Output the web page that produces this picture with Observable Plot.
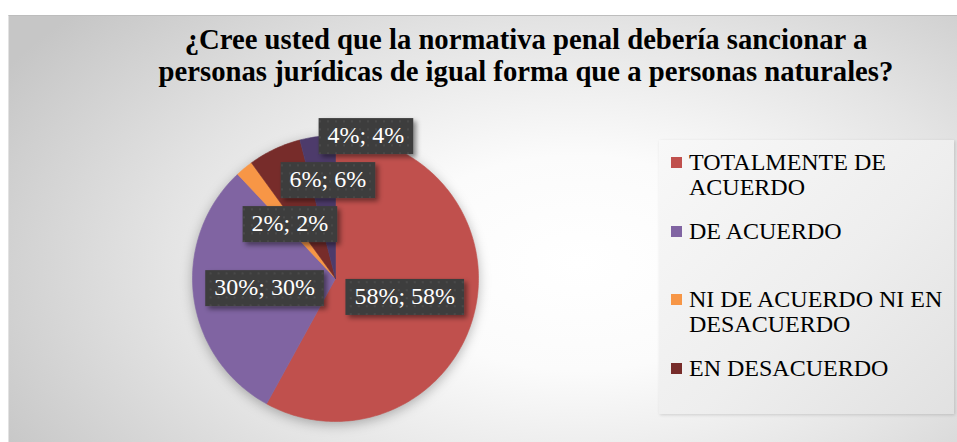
<!DOCTYPE html>
<html>
<head>
<meta charset="utf-8">
<script src="https://cdn.jsdelivr.net/npm/d3@7"></script>
<script src="https://cdn.jsdelivr.net/npm/@observablehq/plot@0.6"></script>
<style>
  body { margin: 0; background: #ffffff; }
  #wrap { position: relative; width: 957px; height: 442px; overflow: hidden; font-family: "Liberation Serif", Tinos, "Times New Roman", Times, "DejaVu Serif", serif; }
  #bg { position: absolute; left: 8px; top: 15px; right: 0; bottom: 0;
        border-left: 1px solid #e2e2e2; border-top: 1px solid #bdbdbd;
        background: radial-gradient(ellipse 70% 90% at 60% 58%, #ffffff 0%, #fbfbfb 28%, #e4e4e4 62%, #c6c6c6 100%); }
  #title { position: absolute; left: 76px; width: 900px; top: 23px; text-align: center;
           font-weight: bold; font-size: 28.7px; line-height: 32px; color: #000; white-space: nowrap; }
  #legend { position: absolute; left: 659px; top: 140px; width: 295px; height: 274px;
            background: linear-gradient(135deg, #f8f8f8 0%, #eeeeee 55%, #e1e1e1 100%);
            box-shadow: 1px 1px 3px rgba(0,0,0,0.15); overflow: hidden; }
  .item { position: absolute; left: 12px; width: 280px; }
  .sw { position: absolute; left: 0; top: 7px; width: 11px; height: 11px; }
  .lt { position: absolute; left: 18px; width: 262px; font-size: 24px; line-height: 25px; color: #000; }
  #plot { position: absolute; left: 0; top: 0; }
</style>
</head>
<body>
<div id="wrap">
  <div id="bg"></div>
  <div id="title"></div>
  <div id="legend"></div>
  <div id="plot"></div>
</div>
<script>
// ---- data ----
const titleLines = ["¿Cree usted que la normativa penal debería sancionar a", "personas jurídicas de igual forma que a personas naturales?"];
const categories = ["TOTALMENTE DE ACUERDO", "DE ACUERDO", "NI DE ACUERDO NI EN DESACUERDO", "EN DESACUERDO", "TOTALMENTE EN DESACUERDO"];
const percents = [58, 30, 2, 6, 4];
const colors = ["#C0504D", "#8064A2", "#F79646", "#772C2A", "#4D3B6B"];
const legendVisible = 4; // entries shown in the (clipped) legend
const serif = '"Liberation Serif", Tinos, "Times New Roman", Times, "DejaVu Serif", serif';

// ---- title ----
document.getElementById("title").innerHTML = titleLines.join("<br>");

// ---- legend ----
const legend = document.getElementById("legend");
categories.slice(0, legendVisible).forEach((c, i) => {
  const it = document.createElement("div");
  it.className = "item";
  it.style.top = (10 + i * 68.5) + "px";
  it.innerHTML = `<div class="sw" style="background:${colors[i]}"></div><div class="lt">${c}</div>`;
  legend.appendChild(it);
});

// ---- pie geometry (from data) ----
const data = categories.map((c, i) => ({cat: c, value: percents[i]}));
const arcs = d3.pie().sort(null).value(d => d.value)(data);
const pts = [];
arcs.forEach(a => {
  const n = Math.max(2, Math.ceil((a.endAngle - a.startAngle) / (Math.PI / 180)));
  pts.push({cat: a.data.cat, x: 0, y: 0});
  for (let k = 0; k <= n; k++) {
    const t = a.startAngle + (a.endAngle - a.startAngle) * k / n;
    pts.push({cat: a.data.cat, x: Math.sin(t), y: Math.cos(t)});
  }
  pts.push({cat: a.data.cat, x: 0, y: 0});
});

// ---- label layout: mid-angle at half radius, stacked when they collide ----
const R = 143;              // pixel radius
const boxH = 36, step = 44, stairX = 38;
const ctx = document.createElement("canvas").getContext("2d");
ctx.font = "24px " + serif;
const labels = [];
arcs.forEach(a => {
  const mid = (a.startAngle + a.endAngle) / 2;
  const text = `${a.data.value}%; ${a.data.value}%`;
  const w = ctx.measureText(text).width + 18;
  let lx = 0.5 * Math.sin(mid), ly = 0.5 * Math.cos(mid);
  let moved = true;
  while (moved) {
    moved = false;
    for (const o of labels) {
      const ox = Math.abs(o.x - lx) * R < (o.w + w) / 2;
      const oy = Math.abs(o.y - ly) * R < boxH;
      if (ox && oy) {
        ly = o.y + step / R;
        lx = o.x + stairX / R;
        moved = true;
      }
    }
  }
  labels.push({cat: a.data.cat, text, x: lx, y: ly, w});
});

// ---- plot ----
const chart = Plot.plot({
  width: 957, height: 442,
  marginLeft: 192, marginRight: 957 - 192 - 2 * R,
  marginTop: 135, marginBottom: 442 - 135 - 2 * R,
  style: {background: "transparent", overflow: "visible", fontFamily: serif},
  x: {domain: [-1, 1], axis: null},
  y: {domain: [-1, 1], axis: null},
  color: {domain: categories, range: colors},
  marks: [
    Plot.line(pts, {x: "x", y: "y", z: "cat", fill: "cat", stroke: "cat", strokeWidth: 0.6, curve: "linear"}),
    Plot.text(labels, {x: "x", y: "y", text: "text", fill: "white", fontSize: 24,
      fontFamily: serif, textAnchor: "middle", lineAnchor: "middle"})
  ]
});
document.getElementById("plot").appendChild(chart);

// decoration: pie shadow, dark label boxes behind texts
const ns = "http://www.w3.org/2000/svg";
const defs = document.createElementNS(ns, "defs");
defs.innerHTML = `
  <pattern id="dots" width="8" height="8" patternUnits="userSpaceOnUse">
    <rect width="8" height="8" fill="#3d3d3d"/>
    <circle cx="2" cy="2" r="0.9" fill="#505050"/>
  </pattern>
  <filter id="sh" x="-20%" y="-30%" width="150%" height="180%">
    <feDropShadow dx="3" dy="3" stdDeviation="2.5" flood-color="#000" flood-opacity="0.45"/>
  </filter>`;
chart.insertBefore(defs, chart.firstChild);
const lineG = chart.querySelector('g[aria-label="line"]');
if (lineG) lineG.style.filter = "drop-shadow(0px 3px 6px rgba(0,0,0,0.28))";
const textG = chart.querySelector('g[aria-label="text"]');
if (textG) {
  textG.querySelectorAll("text").forEach(t => {
    const bb = t.getBBox();
    const r = document.createElementNS(ns, "rect");
    const cy = bb.y + bb.height / 2 + 1;
    r.setAttribute("x", bb.x - 9);
    r.setAttribute("y", cy - boxH / 2);
    r.setAttribute("width", bb.width + 18);
    r.setAttribute("height", boxH);
    r.setAttribute("fill", "url(#dots)");
    r.setAttribute("filter", "url(#sh)");
    const tr = t.getAttribute("transform");
    if (tr) r.setAttribute("transform", tr);
    t.parentNode.insertBefore(r, t);
  });
}
</script>
</body>
</html>
